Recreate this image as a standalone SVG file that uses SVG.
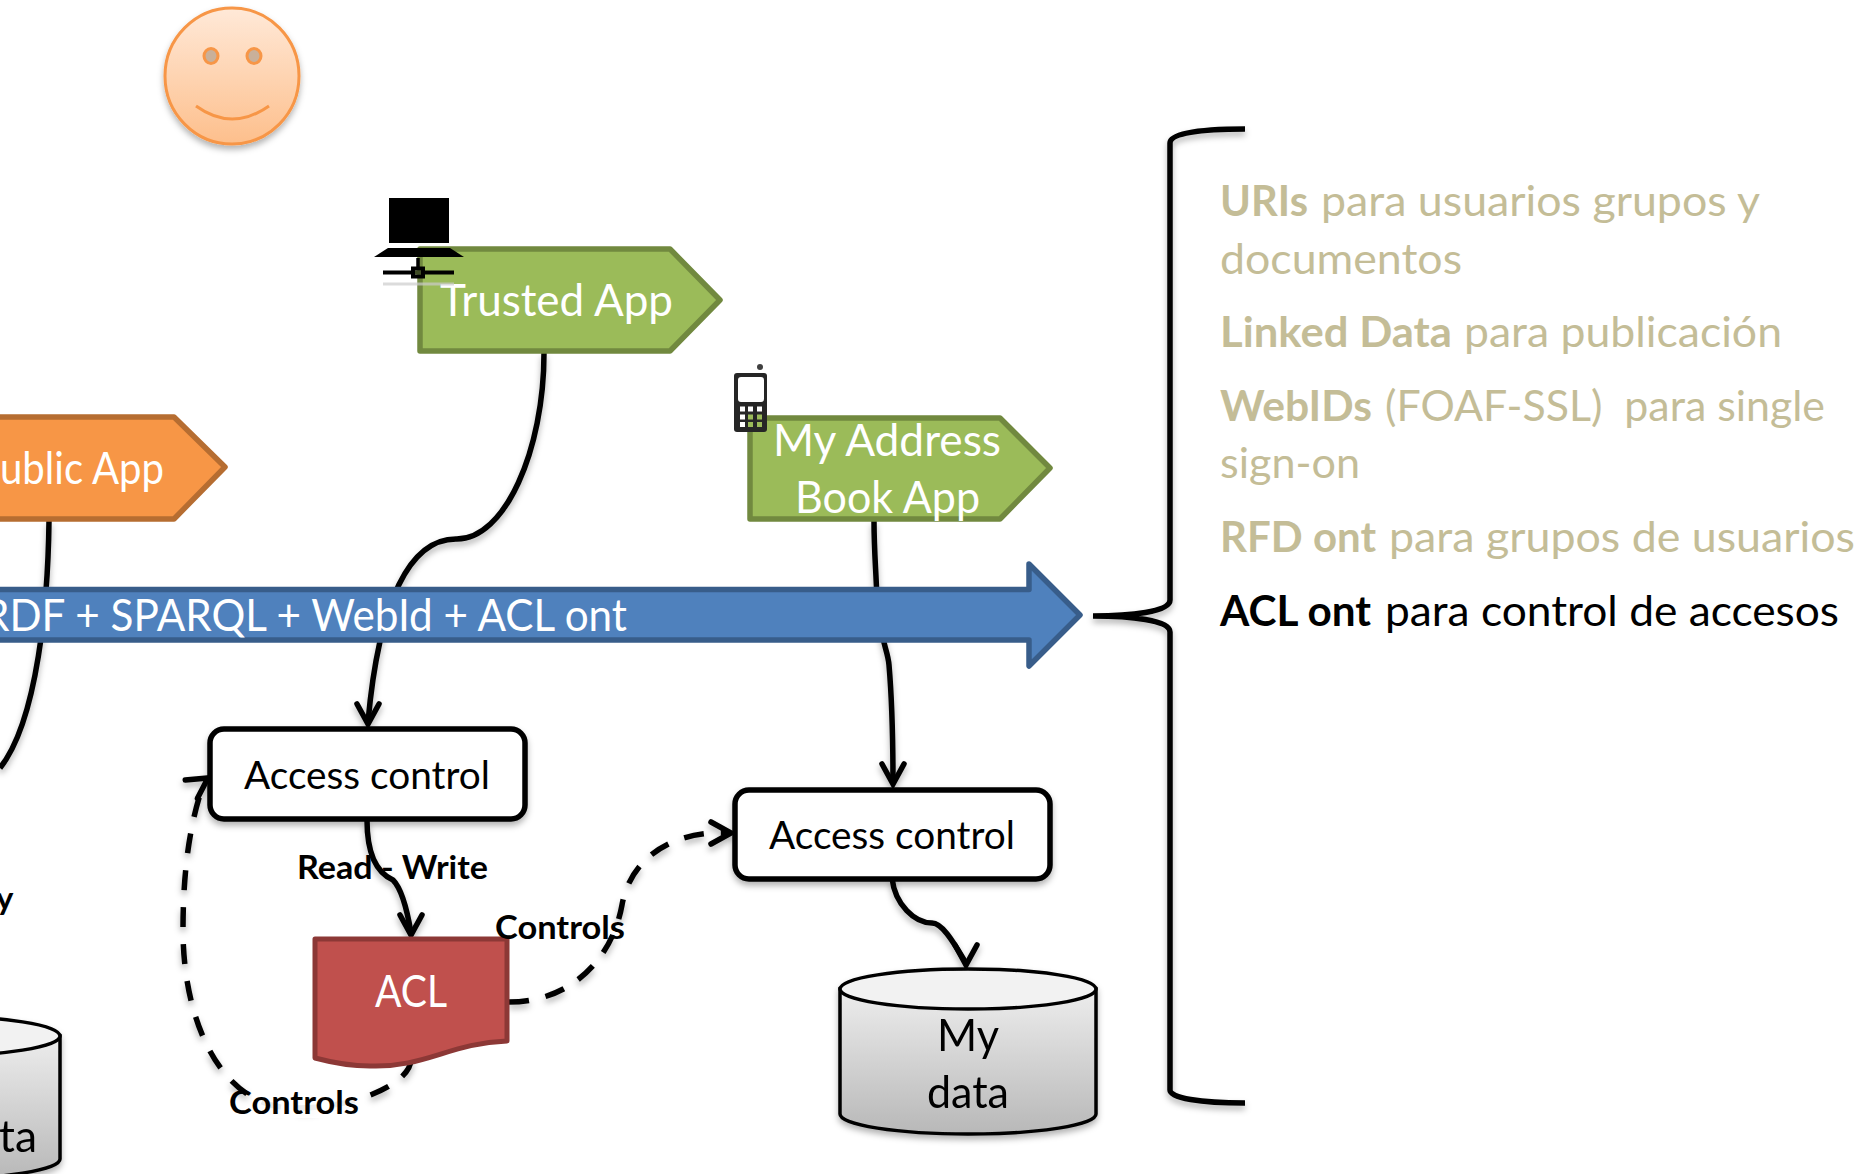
<svg xmlns="http://www.w3.org/2000/svg" width="1872" height="1174" viewBox="0 0 1872 1174">
<style>
text{font-family:Lato,"Open Sans","Liberation Sans",sans-serif}
.w{fill:#fff;font-size:44px}
.k{fill:#000;font-size:38px}
.c{fill:#000;font-size:44px;text-anchor:middle}
.lb{fill:#000;font-size:33px;font-weight:700}
.r{fill:#C4BD97;font-size:42px}
.b{font-weight:700}
.conn{fill:none;stroke:#000;stroke-width:5.500}
.dash{stroke-dasharray:20 17}
.app{stroke-width:5.500;stroke-linejoin:round}
.green{fill:#9BBB59;stroke:#71893F}
.box{fill:#fff;stroke:#000;stroke-width:5.500}
.cyl{fill:url(#cylG);stroke:#000;stroke-width:3.500}
.top{fill:#f2f2f2;stroke:#000;stroke-width:3.500}
</style>
<defs>
<linearGradient id="faceG" x1="0" y1="0" x2="0" y2="1"><stop offset="0" stop-color="#FFE9D8"/><stop offset="1" stop-color="#FDBF8C"/></linearGradient>
<linearGradient id="cylG" x1="0" y1="0" x2="0" y2="1"><stop offset="0" stop-color="#EDEDED"/><stop offset="1" stop-color="#B8B8B8"/></linearGradient>
<filter id="sh" x="-20%" y="-20%" width="140%" height="140%"><feDropShadow dx="0" dy="4" stdDeviation="3" flood-color="#000" flood-opacity=".3"/></filter>
<marker id="head" markerUnits="userSpaceOnUse" markerWidth="32" markerHeight="32" viewBox="-26 -16 32 32" refX="0" refY="0" orient="auto" overflow="visible"><path d="M-20 -11L0 0L-20 11" fill="none" stroke="#000" stroke-width="5.500" stroke-linecap="round"/></marker>
</defs>
<rect width="1872" height="1174" fill="#fff"/>
<g id="connectors" filter="url(#sh)">
<path class="conn" d="M49 521C48 600 38 720 0 768"/>
<path class="conn" marker-end="url(#head)" d="M544 353C544 450 505 540 456 539C410 539 379 600 368 722V724"/>
<path class="conn" marker-end="url(#head)" d="M874 521C874 550 876 570 877 600C880 640 888 650 889 665C892 700 893 740 893 784"/>
<path class="conn" marker-end="url(#head)" d="M367 820C367 850 375 872 393 880C403 890 408 915 411 933V935"/>
<path class="conn" marker-end="url(#head)" d="M892 878C895 905 915 923 932 923C943 923 955 945 966 963V965"/>
<path class="conn dash" marker-end="url(#head)" d="M509 1002C570 1002 612 960 622 905C630 860 670 830 729 833H731"/>
<path class="conn dash" marker-end="url(#head)" d="M411 1059C411 1085 350 1110 290 1108C220 1105 183 1020 183 930C183 870 190 820 205 780L208 778"/>
</g>
<g id="face" filter="url(#sh)">
<ellipse cx="232" cy="76" rx="67" ry="68" fill="url(#faceG)" stroke="#F79646" stroke-width="3"/>
<ellipse cx="211" cy="56" rx="7" ry="7.500" fill="#C9B09A" stroke="#F79646" stroke-width="3"/>
<ellipse cx="254" cy="56" rx="7" ry="7.500" fill="#C9B09A" stroke="#F79646" stroke-width="3"/>
<path d="M196 106Q232 132 269 106" fill="none" stroke="#F79646" stroke-width="3"/>
</g>
<g id="public-app">
<path class="app" fill="#F79646" stroke="#B66D31" d="M-10 417H174L225 467L174 519H-10Z"/>
<text class="w" x="0" y="484" textLength="164" lengthAdjust="spacingAndGlyphs">ublic App</text>
</g>
<g id="trusted-app">
<path class="app green" d="M420 249H670L720 300L670 351H420Z"/>
<text class="w" x="440" y="316" textLength="233" lengthAdjust="spacingAndGlyphs">Trusted App</text>
</g>
<g id="computer">
<rect x="389" y="198" width="60" height="45"/>
<path d="M388 248H450L464 257H374Z"/>
<path d="M418 258V268" stroke="#000" stroke-width="3.500"/>
<path d="M383 272.500H454" stroke="#000" stroke-width="4"/>
<rect x="413" y="268.500" width="10" height="8" fill="#9BBB59" fill-opacity=".4" stroke="#000" stroke-width="4"/>
<path d="M383 284H454" stroke="#ccc" stroke-width="3" opacity=".7"/>
</g>
<g id="address-app">
<path class="app green" d="M750 418H1000L1050 468L1000 519H750Z"/>
<text class="w" x="773" y="456" textLength="228" lengthAdjust="spacingAndGlyphs">My Address</text>
<text class="w" x="795" y="513" textLength="185" lengthAdjust="spacingAndGlyphs">Book App</text>
</g>
<g id="phone">
<rect x="734" y="373" width="33" height="59" rx="3" fill="#262626"/>
<rect x="738" y="377" width="26" height="25" rx="3" fill="#fff"/>
<circle cx="760" cy="367" r="3" fill="#404040"/>
<g fill="#fff"><rect x="740" y="406.500" width="5" height="5"/><rect x="748" y="406.500" width="5" height="5"/><rect x="757" y="406.500" width="5" height="5"/><rect x="740" y="414.500" width="5" height="5"/><rect x="740" y="422" width="5" height="5"/></g>
<g fill="#9BBB59"><rect x="748" y="414.500" width="5" height="5"/><rect x="757" y="414.500" width="5" height="5"/><rect x="748" y="422" width="5" height="5"/><rect x="757" y="422" width="5" height="5"/></g>
</g>
<g id="bus">
<path d="M-10 589.500H1029V564L1080 615L1029 666V640H-10Z" fill="#4F81BD" stroke="#385D8A" stroke-width="5.500" stroke-linejoin="round"/>
<text class="w" x="-17" y="631" textLength="644" lengthAdjust="spacingAndGlyphs">RDF + SPARQL + WebId + ACL ont</text>
</g>
<g id="access-control-1">
<rect class="box" x="210" y="729" width="315" height="90" rx="14" filter="url(#sh)"/>
<text class="k" x="244" y="789" textLength="246" lengthAdjust="spacingAndGlyphs">Access control</text>
</g>
<g id="access-control-2">
<rect class="box" x="735" y="790" width="315" height="89" rx="14" filter="url(#sh)"/>
<text class="k" x="769" y="849" textLength="246" lengthAdjust="spacingAndGlyphs">Access control</text>
</g>
<g id="acl">
<path d="M315 939H507V1041C450 1043 425 1068 370 1066C350 1066 330 1062 315 1058Z" fill="#C0504D" stroke="#8C3836" stroke-width="5" stroke-linejoin="round"/>
<text class="w" x="375" y="1007" textLength="72" lengthAdjust="spacingAndGlyphs">ACL</text>
</g>
<g id="my-data" filter="url(#sh)">
<path class="cyl" d="M840 989V1114A128 20 0 0 0 1096 1114V989Z"/>
<ellipse class="top" cx="968" cy="989" rx="128" ry="20"/>
<text class="c" x="968" y="1051" textLength="62" lengthAdjust="spacingAndGlyphs">My</text>
<text class="c" x="968" y="1108" textLength="82" lengthAdjust="spacingAndGlyphs">data</text>
</g>
<g id="public-data" filter="url(#sh)">
<path class="cyl" d="M-196 1036V1159A128 20 0 0 0 60 1159V1036Z"/>
<ellipse class="top" cx="-68" cy="1036" rx="128" ry="20"/>
<text class="c" x="18" y="1152" textLength="38" lengthAdjust="spacingAndGlyphs">ta</text>
</g>
<g id="labels">
<rect x="252" y="1086" width="112" height="32" fill="#fff" fill-opacity=".92"/>
<text class="lb" x="297" y="879" textLength="191" lengthAdjust="spacingAndGlyphs">Read - Write</text>
<text class="lb" x="495" y="939" textLength="130" lengthAdjust="spacingAndGlyphs">Controls</text>
<text class="lb" x="229" y="1114" textLength="130" lengthAdjust="spacingAndGlyphs">Controls</text>
<text class="lb" x="-4" y="910">y</text>
</g>
<g id="brace">
<path class="conn" filter="url(#sh)" d="M1245 129C1200 129 1170 133 1170 143V600C1170 612 1130 616 1093 616C1130 616 1170 620 1170 632V1090C1170 1098 1200 1103 1245 1103"/>
</g>
<g id="list">
<text class="r" x="1220" y="216"><tspan class="b" textLength="88" lengthAdjust="spacingAndGlyphs">URIs</tspan><tspan x="1321" textLength="439" lengthAdjust="spacingAndGlyphs">para usuarios grupos y</tspan></text>
<text class="r" x="1220" y="274" textLength="242" lengthAdjust="spacingAndGlyphs">documentos</text>
<text class="r" x="1220" y="347"><tspan class="b" textLength="232" lengthAdjust="spacingAndGlyphs">Linked Data</tspan><tspan x="1464" textLength="318" lengthAdjust="spacingAndGlyphs">para publicación</tspan></text>
<text class="r" x="1220" y="421"><tspan class="b" textLength="152" lengthAdjust="spacingAndGlyphs">WebIDs</tspan><tspan x="1385" textLength="440" lengthAdjust="spacingAndGlyphs" xml:space="preserve">(FOAF-SSL)  para single</tspan></text>
<text class="r" x="1220" y="478" textLength="140" lengthAdjust="spacingAndGlyphs">sign-on</text>
<text class="r" x="1220" y="552"><tspan class="b" textLength="156" lengthAdjust="spacingAndGlyphs">RFD ont</tspan><tspan x="1389" textLength="466" lengthAdjust="spacingAndGlyphs">para grupos de usuarios</tspan></text>
<text class="r" style="fill:#000" x="1220" y="626"><tspan class="b" textLength="151" lengthAdjust="spacingAndGlyphs">ACL ont</tspan><tspan x="1385" textLength="454" lengthAdjust="spacingAndGlyphs">para control de accesos</tspan></text>
</g>
</svg>
